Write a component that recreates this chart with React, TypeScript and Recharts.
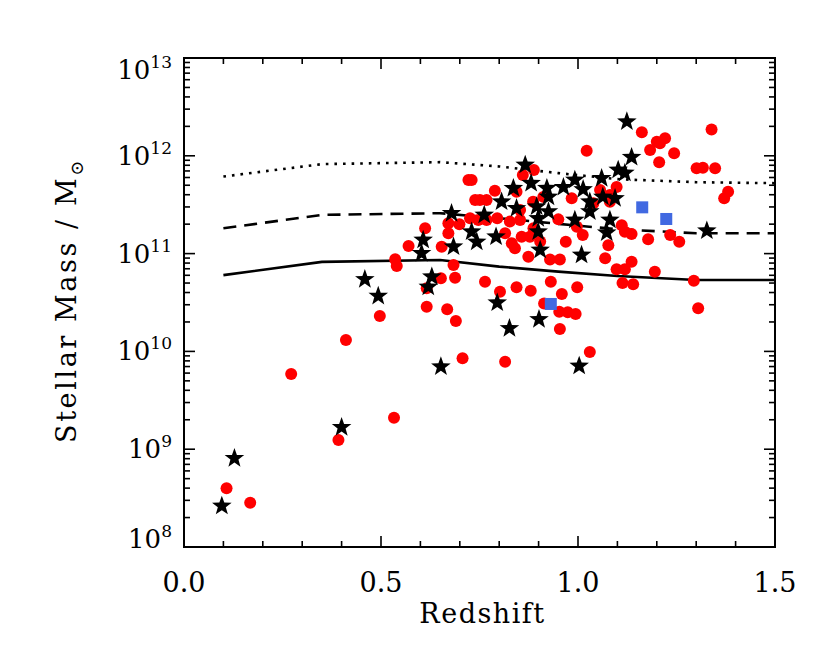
import React from 'react';
import { ScatterChart, Scatter, XAxis, YAxis, ReferenceArea } from 'recharts';

// ---------- data (redshift, log10 stellar mass) ----------
const lineZ = [0.1, 0.35, 0.65, 0.8, 0.95, 1.1, 1.3, 1.5];
const solidLogM = [10.78, 10.915, 10.935, 10.867, 10.816, 10.771, 10.73, 10.73];
const dashedLogM = [11.259, 11.396, 11.413, 11.362, 11.304, 11.249, 11.208, 11.208];
const dottedLogM = [11.788, 11.915, 11.935, 11.891, 11.823, 11.761, 11.73, 11.72];

const redZ = [
  0.108, 0.168, 0.272, 0.392, 0.411, 0.497, 0.533, 0.536, 0.540, 0.570,
  0.612, 0.616, 0.616, 0.654, 0.652, 0.668, 0.671, 0.671, 0.684, 0.688,
  0.690, 0.699, 0.707, 0.722, 0.730, 0.726, 0.739, 0.751, 0.768, 0.747,
  0.768, 0.764, 0.789, 0.795, 0.802, 0.815, 0.815, 0.827, 0.832, 0.840,
  0.844, 0.844, 0.853, 0.853, 0.857, 0.860, 0.874, 0.878, 0.880, 0.886,
  0.887, 0.888, 0.904, 0.912, 0.914, 0.929, 0.931, 0.950, 0.9525, 0.954,
  0.954, 0.959, 0.969, 0.974, 0.984, 0.994, 0.997, 0.998, 1.012, 1.022,
  1.030, 1.039, 1.056, 1.069, 1.077, 1.081, 1.081, 1.098, 1.098, 1.111,
  1.113, 1.119, 1.119, 1.136, 1.136, 1.140, 1.162, 1.178, 1.183, 1.195,
  1.200, 1.206, 1.208, 1.221, 1.234, 1.244, 1.257, 1.294, 1.301, 1.305,
  1.317, 1.339, 1.348, 1.371, 1.381,
];
const redLogM = [
  8.60, 8.453, 9.769, 9.094, 10.117, 10.362, 9.322, 10.942, 10.873, 11.078,
  11.259, 10.645, 10.457, 11.07, 10.747, 10.43, 11.207, 11.31, 10.883, 10.754,
  10.311, 11.30, 9.929, 11.753, 11.753, 11.361, 11.548, 11.548, 11.548, 11.344,
  11.344, 10.713, 11.643, 11.361, 10.61, 11.207, 9.895, 11.327, 11.105, 11.054,
  11.633, 10.655, 11.446, 11.344, 11.173, 11.804, 10.968, 11.173, 10.62, 11.53,
  11.26, 11.855, 11.123, 11.58, 10.49, 10.94, 10.713, 11.35, 10.406, 10.94,
  10.229, 10.587, 11.12, 10.40, 11.565, 10.382, 11.275, 10.655, 11.19, 12.052,
  9.994, 11.514, 11.65, 10.952, 11.085, 11.53, 11.6, 11.68, 10.84, 11.29,
  10.70, 11.224, 10.84, 11.2, 10.917, 10.686, 12.24, 11.146, 12.06, 10.815,
  12.144, 11.934, 12.128, 12.18, 11.19, 12.026, 11.12, 10.723, 11.872, 10.441,
  11.878, 12.27, 11.872, 11.565, 11.633,
];

const starZ = [
  0.096, 0.128, 0.400, 0.459, 0.493, 0.607, 0.603, 0.629, 0.620, 0.652,
  0.679, 0.684, 0.730, 0.743, 0.762, 0.792, 0.795, 0.806, 0.826, 0.836,
  0.844, 0.866, 0.881, 0.895, 0.899, 0.899, 0.904, 0.901, 0.921, 0.925,
  0.925, 0.963, 0.992, 0.992, 1.009, 1.003, 1.013, 1.030, 1.030, 1.060,
  1.063, 1.094, 1.081, 1.073, 1.102, 1.119, 1.136, 1.124, 1.327,
];
const starLogM = [
  8.419, 8.907, 9.224, 10.737, 10.566, 11.139, 11.003, 10.764, 10.66, 9.844,
  11.412, 11.07, 11.224, 11.12, 11.395, 11.173, 10.498, 11.53, 10.236, 11.668,
  11.463, 11.906, 11.72, 11.48, 11.36, 11.224, 11.037, 10.328, 11.668, 11.58,
  11.43, 11.678, 11.753, 11.344, 10.986, 9.851, 11.657, 11.53, 11.43, 11.77,
  11.58, 11.565, 11.344, 11.214, 11.855, 11.824, 11.985, 12.349, 11.234,
];

const blueZ = [0.931, 1.163, 1.224];
const blueLogM = [10.485, 11.473, 11.354];

const xTicks = [0, 0.1, 0.2, 0.3, 0.4, 0.5, 0.6, 0.7, 0.8, 0.9, 1.0, 1.1, 1.2, 1.3, 1.4, 1.5];
const decades = [8, 9, 10, 11, 12, 13];
const minorMult = [1, 2, 3, 4, 5, 6, 7, 8, 9];

// ---------- build tables ----------
const zip = (xs: number[], ys: number[]) => xs.map((rs, i) => ({ rs, lm: ys[i] }));
const solidData = zip(lineZ, solidLogM);
const dashedData = zip(lineZ, dashedLogM);
const dottedData = zip(lineZ, dottedLogM);
const redData = zip(redZ, redLogM);
const starData = zip(starZ, starLogM);
const blueData = zip(blueZ, blueLogM);
const yTicks: number[] = [];
decades.forEach((d) => {
  if (d === 13) { yTicks.push(13); return; }
  minorMult.forEach((k) => yTicks.push(d + Math.log10(k)));
});

// ---------- geometry ----------
const W = 822;
const H = 656;
const YW = 176;
const XH = 117;
const MT = 50;
const MR = 55;
const PL = YW;
const PR = W - MR;
const PT = MT;
const PB = H - XH;
const FONT = '"DejaVu Serif", "DejaVu Sans", serif';

const YTick = (props: any) => {
  const { y, payload } = props;
  const v = payload.value as number;
  const major = Math.abs(v - Math.round(v)) < 1e-6;
  const len = major ? 11 : 6;
  const base = Math.min(Math.max(y + 9, PT + 21), PB + 1);
  return (
    <g>
      <line x1={PL} x2={PL + len} y1={y} y2={y} stroke="#000" strokeWidth={1.6} />
      <line x1={PR - len} x2={PR} y1={y} y2={y} stroke="#000" strokeWidth={1.6} />
      {major && (
        <text x={PL - 12} y={base} textAnchor="end" fontFamily={FONT} fontSize={26} fill="#000">
          10<tspan dy={-11} fontSize={17}>{Math.round(v)}</tspan>
        </text>
      )}
    </g>
  );
};

const XTick = (props: any) => {
  const { x, payload } = props;
  const v = payload.value as number;
  const major = Math.abs(v * 2 - Math.round(v * 2)) < 1e-6;
  const len = major ? 11 : 6;
  return (
    <g>
      <line x1={x} x2={x} y1={PB - len} y2={PB} stroke="#000" strokeWidth={1.6} />
      <line x1={x} x2={x} y1={PT} y2={PT + len} stroke="#000" strokeWidth={1.6} />
      {major && (
        <text x={x} y={PB + 45} textAnchor="middle" fontFamily={FONT} fontSize={27} fill="#000">
          {v.toFixed(1)}
        </text>
      )}
    </g>
  );
};

const XLabel = () => (
  <text x={(PL + PR) / 2 + 3} y={PB + 76} textAnchor="middle" fontFamily={FONT} fontSize={27}
    letterSpacing={1.5} fill="#000">Redshift</text>
);

const YLabel = () => {
  const cx = 68;
  const cy = (PT + PB) / 2 - 2;
  return (
    <text transform={`translate(${cx},${cy}) rotate(-90)`} textAnchor="middle" fontFamily={FONT}
      fontSize={27} letterSpacing={2.6} fill="#000">
      Stellar Mass / M<tspan dy={7} fontSize={18}>⊙</tspan>
    </text>
  );
};

const Circle = (p: any) => <circle cx={p.cx} cy={p.cy} r={6} fill="#ff0000" />;
const Square = (p: any) => <rect x={p.cx - 6} y={p.cy - 6} width={12} height={12} fill="#4169e1" />;
const Star = (p: any) => {
  const R = 10.3;
  const r = 4.2;
  const pts: string[] = [];
  for (let i = 0; i < 10; i++) {
    const a = (-90 + i * 36) * Math.PI / 180;
    const rad = i % 2 === 0 ? R : r;
    pts.push(`${p.cx + rad * Math.cos(a)},${p.cy + rad * Math.sin(a)}`);
  }
  return <polygon points={pts.join(' ')} fill="#000" />;
};
const NoDot = () => <g />;

export default function App() {
  return (
    <ScatterChart width={W} height={H} margin={{ top: MT, right: MR, bottom: 0, left: 0 }}>
      <XAxis type="number" dataKey="rs" domain={[0, 1.5]} ticks={xTicks} interval={0}
        allowDataOverflow tick={<XTick />} tickLine={false} axisLine={false}
        tickSize={0} tickMargin={0} height={XH} label={<XLabel />} />
      <YAxis type="number" dataKey="lm" domain={[8, 13]} ticks={yTicks} interval={0}
        allowDataOverflow tick={<YTick />} tickLine={false} axisLine={false}
        tickSize={0} tickMargin={0} width={YW} label={<YLabel />} />
      <Scatter data={dottedData} line={{ stroke: '#000', strokeWidth: 2.6, strokeDasharray: '2.6 6', strokeLinecap: 'butt' }}
        lineType="joint" shape={<NoDot />} isAnimationActive={false} />
      <Scatter data={dashedData} line={{ stroke: '#000', strokeWidth: 2.6, strokeDasharray: '13 8' }}
        lineType="joint" shape={<NoDot />} isAnimationActive={false} />
      <Scatter data={solidData} line={{ stroke: '#000', strokeWidth: 2.6 }}
        lineType="joint" shape={<NoDot />} isAnimationActive={false} />
      <Scatter data={redData} shape={<Circle />} isAnimationActive={false} />
      <Scatter data={starData} shape={<Star />} isAnimationActive={false} />
      <Scatter data={blueData} shape={<Square />} isAnimationActive={false} />
      <ReferenceArea x1={0} x2={1.5} y1={8} y2={13} fill="none" fillOpacity={0}
        stroke="#000" strokeWidth={2} ifOverflow="visible" />
    </ScatterChart>
  );
}
